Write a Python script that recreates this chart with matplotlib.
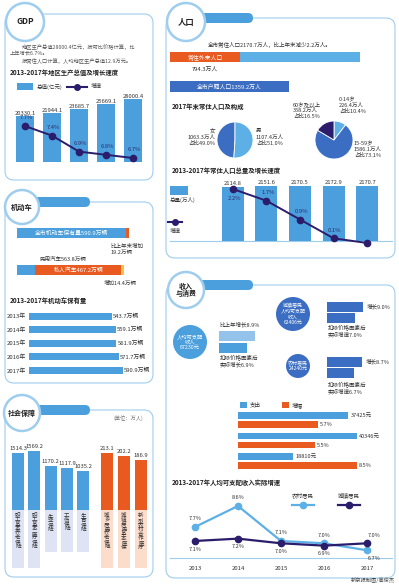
import matplotlib.pyplot as plt
from matplotlib.patches import FancyBboxPatch, Circle, Rectangle
from matplotlib.lines import Line2D

plt.rcParams['font.family'] = ['Noto Sans CJK SC', 'DejaVu Sans']

W, H = 399, 584

BLUE = '#4a9fdc'
LBLUE = '#5cb0e6'
PALE = '#93c3ea'
DBLUE = '#3b6ec2'
ORANGE = '#e85a1f'
YELLOW = '#f5c242'
NAVY = '#2b1d6b'
EDGE = '#9fcdee'
TXT = '#333333'

# Données

years = ['2013', '2014', '2015', '2016', '2017']
gdp_total = [20330.1, 21944.1, 23685.7, 25669.1, 28000.4]
gdp_growth = [7.7, 7.4, 6.9, 6.8, 6.7]

car_years = ['2013年', '2014年', '2015年', '2016年', '2017年']
car_total = [543.7, 559.1, 561.9, 571.7, 590.9]
car_all = 590.9
car_all_add = 19.2
car_civil = 563.8
car_private = 467.2
car_private_add = 14.4

social_blue_labels = ['职工基本养老保险', '职工基本医疗保险', '失业保险', '工伤保险', '生育保险']
social_blue = [1514.3, 1569.2, 1170.2, 1117.9, 1035.2]
social_orange_labels = ['城乡居民养老保障', '城镇居民基本医保', '新型农村合作医疗']
social_orange = [213.1, 202.2, 186.9]

pop_total = [2114.8, 2151.6, 2170.5, 2172.9, 2170.7]
pop_growth = [2.2, 1.7, 0.9, 0.1, -0.1]
pop_resident = 2170.7
pop_migrant = 794.3
pop_registered = 1359.2
sex_labels = ['女', '男']
sex_values = [1063.3, 1107.4]
sex_share = [49.0, 51.0]
age_labels = ['0-14岁', '15-59岁', '60岁及以上']
age_values = [226.4, 1586.1, 358.2]
age_share = [10.4, 73.1, 16.5]

income_growth = [8.9, 6.9]
city_growth = [9.0, 7.0]
rural_growth = [8.7, 6.7]

spend_labels = ['居民人均消费支出', '城镇居民人均消费支出', '农村居民人均消费支出']
spend_values = [37425, 40346, 18810]
spend_growth = [5.7, 5.5, 8.5]

rural_real = [7.7, 8.6, 7.1, 7.0, 6.7]
urban_real = [7.1, 7.2, 7.0, 6.9, 7.0]


fig = plt.figure(figsize=(W / 100, H / 100), dpi=100)
bg = fig.add_axes([0, 0, 1, 1])
bg.set_xlim(0, W)
bg.set_ylim(H, 0)
bg.axis('off')


def rect(x0, y0, x1, y1):
    return [x0 / W, 1 - y1 / H, (x1 - x0) / W, (y1 - y0) / H]


def new_ax(x0, y0, x1, y1):
    ax = fig.add_axes(rect(x0, y0, x1, y1))
    ax.patch.set_alpha(0)
    for s in ax.spines.values():
        s.set_visible(False)
    ax.tick_params(length=0, labelsize=4.3, colors=TXT)
    return ax


def clean(ax):
    for s in ax.spines.values():
        s.set_visible(False)
    ax.set_xticks([])
    ax.set_yticks([])


def txt(x, y, s, fs=4.2, **kw):
    kw.setdefault('color', TXT)
    kw.setdefault('va', 'center')
    bg.text(x, y, s, fontsize=fs, **kw)


def panel(x0, y0, x1, y1):
    bg.add_patch(FancyBboxPatch((x0, y0), x1 - x0, y1 - y0,
                                boxstyle='round,pad=0,rounding_size=9',
                                fc='none', ec=EDGE, lw=0.8))


def header(cx, cy, r, title, tab_y=None, tab_x1=None, fs=6):
    if tab_x1 is not None:
        bg.add_patch(FancyBboxPatch((cx, tab_y - 5), tab_x1 - cx, 10,
                                    boxstyle='round,pad=0,rounding_size=5',
                                    fc=BLUE, ec='none'))
    bg.add_patch(Circle((cx, cy), r, fc='white', ec=EDGE, lw=1.8))
    bg.text(cx, cy, title, ha='center', va='center', fontsize=fs,
            fontweight='bold', color='#222222', linespacing=1.1)


# Cadres

panel(5, 14, 153, 180)
header(25, 22, 19, 'GDP', fs=6)
panel(5, 202, 153, 383)
header(22, 207, 17, '机动车', tab_y=202, tab_x1=90, fs=5.2)
panel(5, 410, 153, 577)
header(22, 413, 18, '社会保障', tab_y=410, tab_x1=90, fs=5)
panel(166, 18, 395, 258)
header(186, 22, 19, '人口', tab_y=18, tab_x1=253, fs=6)
panel(166, 285, 395, 578)
header(186, 290, 18, '收入\n与消费', tab_y=285, tab_x1=253, fs=5)

# GDP

txt(22, 47, '地区生产总值28000.4亿元，按可比价格计算，比', fs=3.8, color='#555555')
txt(10, 54, '上年增长6.7%。', fs=3.8, color='#555555')
txt(22, 61, '按常住人口计算，人均地区生产总值12.9万元。', fs=3.8, color='#555555')
txt(10, 73, '2013-2017年地区生产总值及增长速度', fs=4.6, fontweight='bold', color='#222222')
bg.add_patch(Rectangle((17, 83), 16, 7, fc=BLUE))
txt(37, 86.5, '总值(亿元)', fs=4)
bg.add_line(Line2D([67, 87], [86.5, 86.5], color=NAVY, lw=1.5))
bg.add_line(Line2D([77], [86.5], color=NAVY, marker='o', ms=4))
txt(91, 86.5, '增速', fs=4)

ax = new_ax(11.5, 95, 146.5, 162)
ax.bar(range(5), gdp_total, width=0.63, color=BLUE)
for i, v in enumerate(gdp_total):
    ax.text(i, v, f'{v}', ha='center', va='bottom', fontsize=4.2, color=TXT)
ax.set_xlim(-0.5, 4.5)
ax.set_ylim(0, 29800)
ax.set_xticks(range(5), years)
ax.set_yticks([])
ax.tick_params(axis='x', pad=2.5)
ax2 = ax.twinx()
clean(ax2)
ax2.plot(range(5), gdp_growth, color=NAVY, lw=1.4, marker='o', ms=4.5)
for i, v in enumerate(gdp_growth):
    ax2.annotate(f'{v}%', (i, v), xytext=(1, 4), textcoords='offset points',
                 ha='center', va='bottom', fontsize=4.2, color='#2d2d6e')
ax2.set_ylim(6.575, 8.67)

# Motorisation

ax = new_ax(17, 214.5, 150, 288.5)
clean(ax)
ax.barh(0, car_all - car_all_add, height=0.27, color=BLUE)
ax.barh(0, car_all_add, left=car_all - car_all_add, height=0.27, color=ORANGE)
ax.barh(1, car_civil - car_private, height=0.27, color=BLUE)
ax.barh(1, car_private - car_private_add, left=car_civil - car_private,
        height=0.27, color=ORANGE)
ax.barh(1, car_private_add, left=car_civil - car_private_add, height=0.27, color=YELLOW)
ax.set_xlim(0, 700)
ax.set_ylim(1.5, -0.5)
ax.text((car_all - car_all_add) / 2, 0, f'全市机动车保有量{car_all}万辆',
        ha='center', va='center', fontsize=4.2, color='white')
ax.text((car_civil - car_private + car_civil - car_private_add) / 2, 1,
        f'私人汽车{car_private}万辆', ha='center', va='center', fontsize=4.2, color='white')
txt(111, 249, f'比上年末增加\n{car_all_add}万辆', fs=4, linespacing=1.25)
txt(40, 259, f'民用汽车{car_civil}万辆', fs=4)
txt(104, 283, f'增加{car_private_add}万辆', fs=4)

txt(10, 300, '2013-2017年机动车保有量', fs=4.6, fontweight='bold', color='#222222')
ax = new_ax(29, 309.25, 150, 377.25)
ax.barh(range(5), car_total, height=0.52, color=BLUE)
for i, v in enumerate(car_total):
    ax.text(v + 5, i, f'{v}万辆', va='center', fontsize=4.2, color=TXT)
ax.set_xlim(187, 707)
ax.set_ylim(4.5, -0.5)
ax.set_yticks(range(5), car_years)
ax.set_xticks([])
ax.tick_params(axis='y', pad=2)

# Protection sociale

txt(143, 418, '(单位：万人)', fs=3.8, ha='right', color='#777777')


def social(x0, x1, labels, values, scale, color, pale):
    ax = new_ax(x0, 440, x1, 572)
    clean(ax)
    n = len(values)
    ax.bar(range(n), values, width=0.74, color=color)
    box = [-(58 if len(l) > 4 else 42) * scale for l in labels]
    ax.bar(range(n), box, width=0.74, color=pale)
    for i, (v, l) in enumerate(zip(values, labels)):
        ax.text(i, v + 2 * scale, f'{v}', ha='center', va='bottom',
                fontsize=4.2, color=TXT)
        ax.text(i, -3 * scale, '\n'.join(l), ha='center', va='top',
                fontsize=4, color=TXT, linespacing=0.86)
    ax.set_xlim(-0.5, n - 0.5)
    ax.set_ylim(-62 * scale, 70 * scale)


social(9.8, 91.4, social_blue_labels, social_blue, 26.6, BLUE, '#dfe4f4')
social(98.5, 149.5, social_orange_labels, social_orange, 3.74, ORANGE, '#fcdccb')

# Population

txt(208, 45, f'全市常住人口{pop_resident}万人，比上年末减少2.2万人。', fs=4)
ax = new_ax(170, 42.25, 390, 101.25)
clean(ax)
ax.barh(0, pop_migrant, height=0.36, color=ORANGE)
ax.barh(0, pop_resident - pop_migrant, left=pop_migrant, height=0.36, color=LBLUE)
ax.barh(1, pop_registered, height=0.36, color=DBLUE)
ax.set_xlim(0, 2514)
ax.set_ylim(1.5, -0.5)
ax.text(pop_migrant / 2, 0, '常住外来人口', ha='center', va='center',
        fontsize=4.2, color='white')
ax.text(pop_migrant / 2, 0.42, f'{pop_migrant}万人', ha='center', va='center',
        fontsize=4.2, color=TXT)
ax.text(pop_registered / 2, 1, f'全市户籍人口{pop_registered}万人', ha='center',
        va='center', fontsize=4.2, color='white')

txt(172, 107, '2017年末常住人口及构成', fs=4.6, fontweight='bold', color='#222222')
ax = new_ax(217, 122, 253, 158)
ax.pie(sex_values, colors=[DBLUE, LBLUE], startangle=90, counterclock=True,
       wedgeprops=dict(edgecolor='white', lw=0.6))
ax.set_xlim(-1, 1)
ax.set_ylim(-1, 1)
txt(215, 137, f'{sex_labels[0]}\n{sex_values[0]}万人\n占比{sex_share[0]}%', fs=4,
    ha='right', multialignment='right', linespacing=1.3)
txt(256, 137, f'{sex_labels[1]}\n{sex_values[1]}万人\n占比{sex_share[1]}%', fs=4,
    linespacing=1.3)

ax = new_ax(315, 121, 353, 159)
ax.pie(age_values, colors=[LBLUE, DBLUE, NAVY], startangle=90, counterclock=False,
       wedgeprops=dict(edgecolor='white', lw=0.6))
ax.set_xlim(-1, 1)
ax.set_ylim(-1, 1)
txt(339, 105, f'{age_labels[0]}\n{age_values[0]}万人\n占比{age_share[0]}%', fs=4, linespacing=1.3)
txt(354, 149, f'{age_labels[1]}\n{age_values[1]}万人\n占比{age_share[1]}%', fs=4, linespacing=1.3)
txt(293, 110, f'{age_labels[2]}\n{age_values[2]}万人\n占比{age_share[2]}%', fs=4, linespacing=1.3)

txt(172, 170, '2013-2017年常住人口总量及增长速度', fs=4.6, fontweight='bold', color='#222222')
bg.add_patch(Rectangle((170, 186), 18, 9, fc=BLUE))
txt(170, 200, '总量(万人)', fs=4)
bg.add_line(Line2D([168, 182], [222, 222], color=NAVY, lw=1.5))
bg.add_line(Line2D([175], [222], color=NAVY, marker='o', ms=4))
txt(170, 231, '增速', fs=4)
bg.add_line(Line2D([170, 392], [241, 241], color=EDGE, lw=0.8))

ax = new_ax(216, 180, 384, 241)
ax.bar(range(5), pop_total, width=0.66, color=BLUE)
for i, v in enumerate(pop_total):
    ax.text(i, v + 25, f'{v}', ha='center', va='bottom', fontsize=4.2, color=TXT)
ax.set_xlim(-0.5, 4.5)
ax.set_ylim(0, 2390)
ax.set_xticks(range(5), years)
ax.set_yticks([])
ax.tick_params(axis='x', pad=5)
ax2 = ax.twinx()
clean(ax2)
ax2.plot(range(5), pop_growth, color=NAVY, lw=1.4, marker='o', ms=4.5, clip_on=False)
for i, v in enumerate(pop_growth):
    dy = -5 if i == 0 else 4
    ax2.annotate(f'{v}%', (i, v), xytext=(1, dy), textcoords='offset points',
                 ha='center', va='top' if dy < 0 else 'bottom', fontsize=4.2, color='#2d2d6e')
ax2.set_ylim(-0.015, 2.583)

# Revenus

bg.add_patch(Circle((190, 342), 17, fc=BLUE, ec='none'))
txt(190, 342, '人均可支配\n收入\n67230元', fs=3.8, ha='center', color='white', linespacing=1.2)
bg.add_patch(Circle((293, 314), 17, fc=DBLUE, ec='none'))
txt(293, 314, '城镇居民\n人均可支配\n收入\n62406元', fs=3.6, ha='center', color='white', linespacing=1.15)
bg.add_patch(Circle((298, 366), 12, fc=DBLUE, ec='none'))
txt(298, 366, '农村居民\n24240元', fs=3.6, ha='center', color='white', linespacing=1.15)

ax = new_ax(219, 330, 300, 354)
clean(ax)
ax.barh([0, 1], income_growth, height=0.83, color=[PALE, BLUE])
ax.set_xlim(0, 81 / 4.1)
ax.set_ylim(1.5, -0.5)
txt(220, 325, f'比上年增长{income_growth[0]}%', fs=4)
txt(220, 361, f'扣除价格因素后\n实际增长{income_growth[1]}%', fs=4, linespacing=1.3)

for top, vals, lbl_y in [(301.5, city_growth, 331), (356.5, rural_growth, 388)]:
    ax = new_ax(327, top, 395, top + 22)
    clean(ax)
    ax.barh([0, 1], vals, height=0.9, color=DBLUE)
    ax.text(vals[0] + 0.8, 0, f'增长{vals[0]}%', va='center', fontsize=4, color=TXT)
    ax.set_xlim(0, 68 / 4.05)
    ax.set_ylim(1.5, -0.5)
    txt(328, lbl_y, f'扣除价格因素后\n实际增速{vals[1]}%', fs=4, linespacing=1.3)

bg.add_patch(Rectangle((240, 402), 7, 6, fc=BLUE))
txt(250, 405, '支出', fs=4)
bg.add_patch(Rectangle((282, 402), 7, 6, fc=ORANGE))
txt(292, 405, '增幅', fs=4)

ax = new_ax(238, 409.75, 390, 471.25)
ax.barh([i - 0.22 for i in range(3)], spend_values, height=0.34, color=BLUE)
for i, v in enumerate(spend_values):
    ax.text(v + 700, i - 0.22, f'{v}元', va='center', fontsize=4, color=TXT)
ax.set_xlim(0, 51530)
ax.set_ylim(2.5, -0.5)
ax.set_yticks(range(3), spend_labels)
ax.set_xticks([])
ax.tick_params(axis='y', pad=2, labelsize=4)
ax2 = ax.twiny()
clean(ax2)
ax2.barh([i + 0.22 for i in range(3)], spend_growth, height=0.34, color=ORANGE)
for i, v in enumerate(spend_growth):
    ax2.text(v + 0.15, i + 0.22, f'{v}%', va='center', fontsize=4, color=TXT)
ax2.set_xlim(0, 10.86)
ax2.set_ylim(2.5, -0.5)

txt(172, 483, '2013-2017年人均可支配收入实际增速', fs=4.6, fontweight='bold', color='#222222')
txt(303, 495, '农村居民', fs=4, ha='center')
bg.add_line(Line2D([292, 314], [505, 505], color=LBLUE, lw=1.6))
bg.add_line(Line2D([303], [505], color=LBLUE, marker='o', ms=4.5))
txt(349, 495, '城镇居民', fs=4, ha='center')
bg.add_line(Line2D([338, 360], [505, 505], color=NAVY, lw=1.6))
bg.add_line(Line2D([349], [505], color=NAVY, marker='o', ms=4.5))
bg.add_line(Line2D([170, 392], [558, 558], color=EDGE, lw=0.8))

ax = new_ax(173.5, 495, 388.5, 558)
ax.plot(range(5), rural_real, color=LBLUE, lw=1.6, marker='o', ms=4.5)
ax.plot(range(5), urban_real, color=NAVY, lw=1.6, marker='o', ms=4.5)
for i, v in enumerate(rural_real):
    dx, dy = (5, -4) if i == 4 else (0, 4)
    ax.annotate(f'{v}%', (i, v), xytext=(dx, dy), textcoords='offset points', ha='center',
                va='top' if dy < 0 else 'bottom', fontsize=4, color=TXT)
for i, v in enumerate(urban_real):
    dx, dy = (5, 4) if i == 4 else (0, -4)
    ax.annotate(f'{v}%', (i, v), xytext=(dx, dy), textcoords='offset points', ha='center',
                va='top' if dy < 0 else 'bottom', fontsize=4, color=TXT)
ax.set_xlim(-0.5, 4.5)
ax.set_ylim(6.37, 9.07)
ax.set_xticks(range(5), years)
ax.set_yticks([])
ax.tick_params(axis='x', pad=6)

txt(395, 580, '新京报制图/高俊杰', fs=3.8, ha='right', color='#444444')

fig.savefig('out.png', dpi=100)
